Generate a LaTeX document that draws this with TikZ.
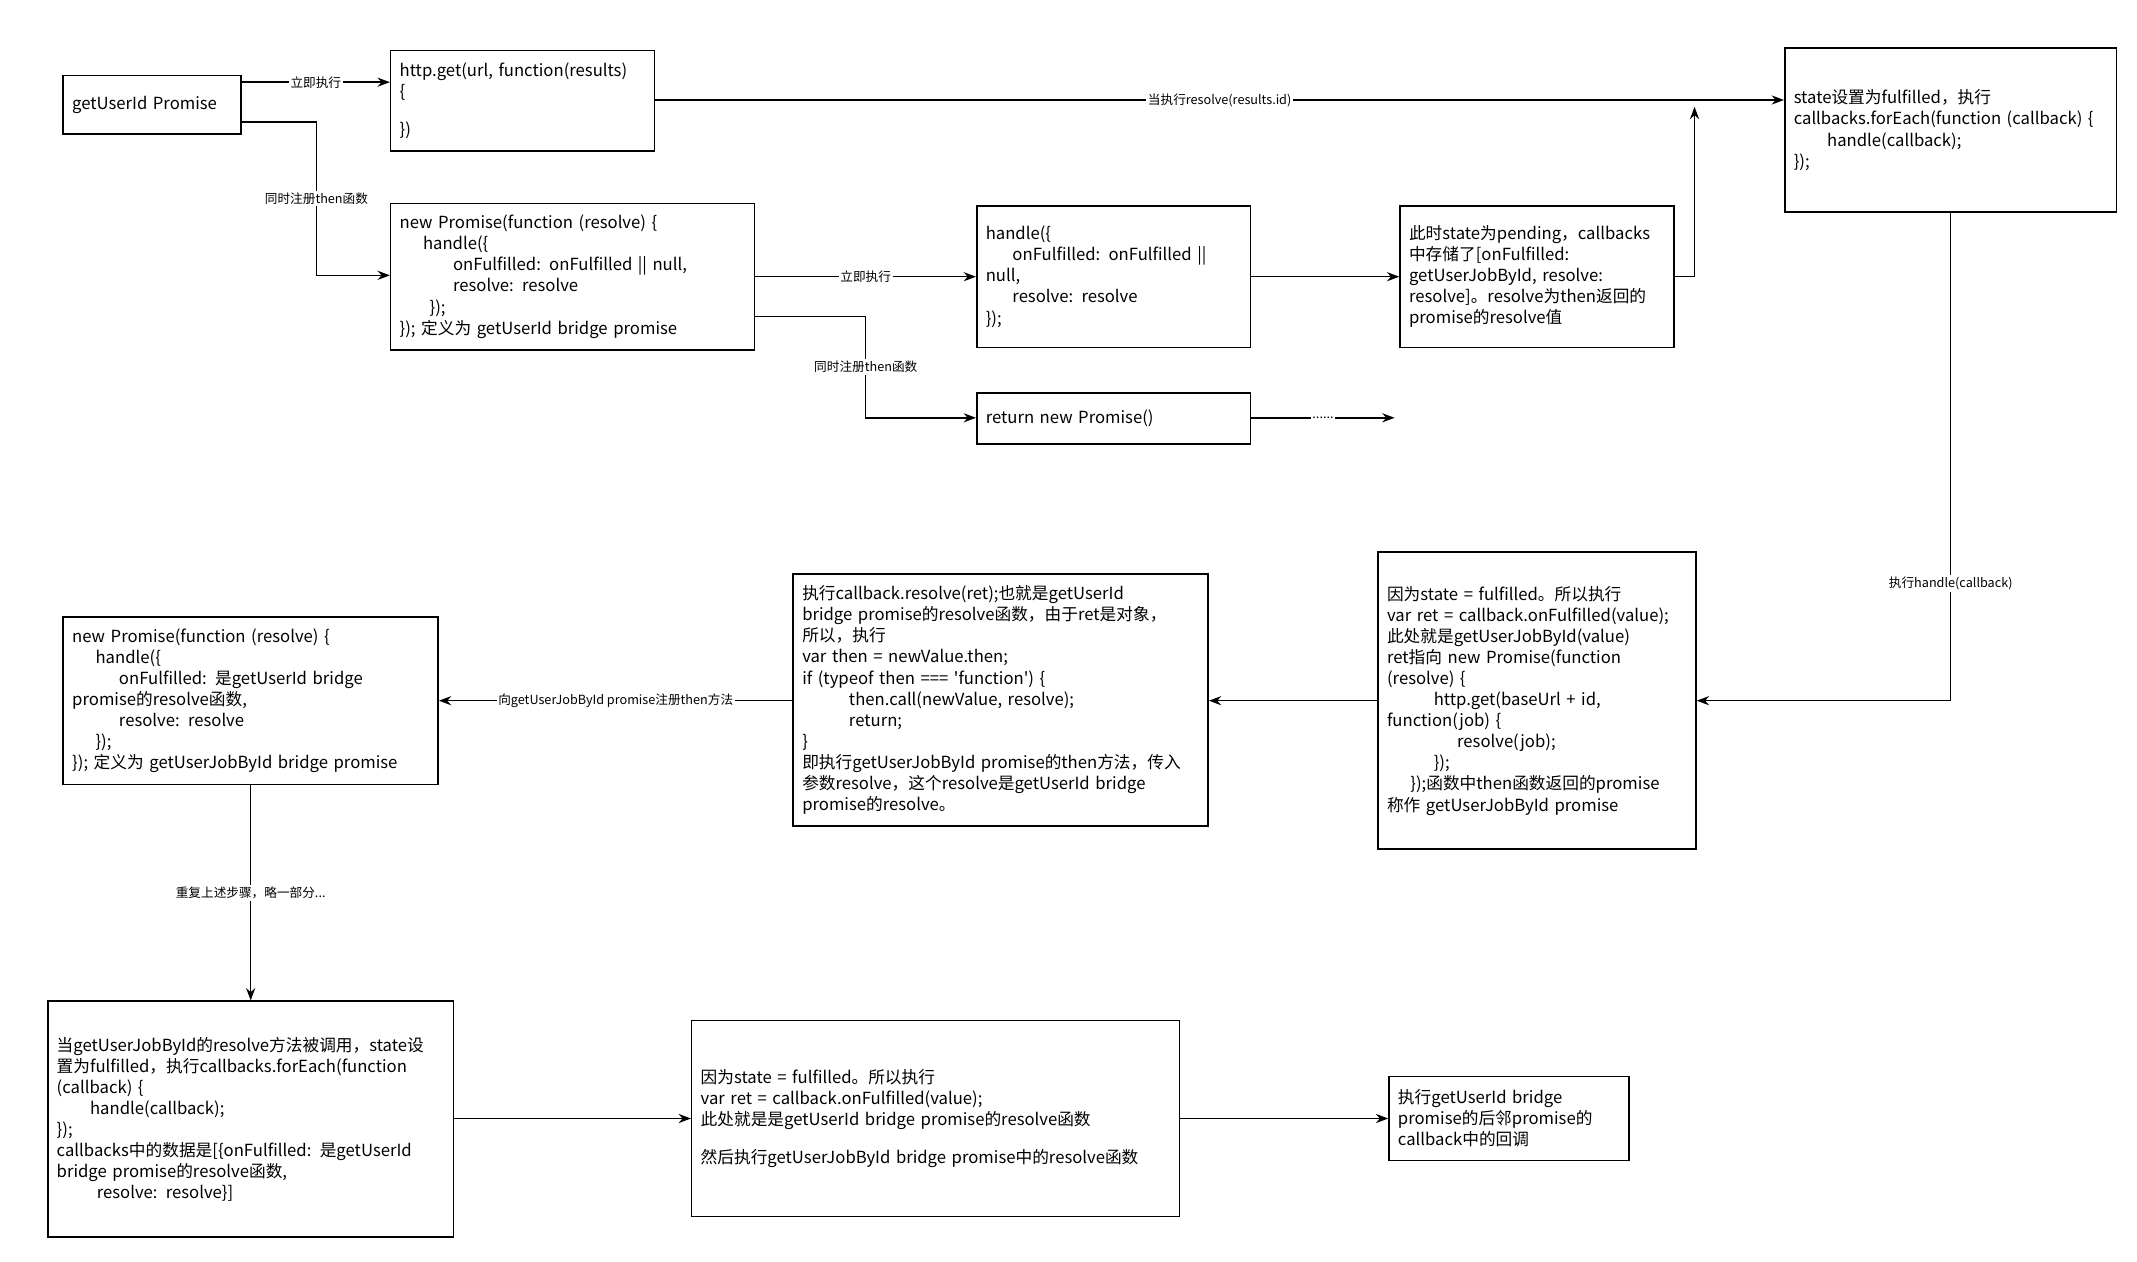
\documentclass[tikz,border=0pt]{standalone}
\usepackage{fontspec}
\setmainfont{Noto Sans CJK SC}[Ligatures=TeXOff]
\usetikzlibrary{arrows.meta, positioning, calc}

\begin{document}
\begin{tikzpicture}[
        x=0.0137cm, y=-0.0137cm,
        box/.style={rectangle, draw=black, line width=0.45pt, align=left, inner xsep=0.08cm, font=\fontsize{4.75}{6}\selectfont},
        lbl/.style={fill=white, inner sep=0.5pt, font=\fontsize{3.6}{4}\selectfont},
        arrow/.style={-{Stealth[length=3.5pt, width=2.6pt]}, line width=0.4pt}
    ]
        \useasboundingbox (0,0) rectangle (1560,921);

        % First row
        \node[box, minimum width=1.78cm, minimum height=0.59cm, text width=1.60cm] (getid) at (111,76.5) {getUserId Promise};
        \node[box, minimum width=2.64cm, minimum height=0.84cm, text width=2.46cm] (httpget) at (381.5,73.5) {http.get(url, function(results)\\ \{\\[5pt] \})};
        \node[box, minimum width=3.32cm, minimum height=1.64cm, text width=3.14cm] (fulfill) at (1424,95) {state设置为fulfilled，执行\\ callbacks.forEach(function (callback) \{\\ \hspace*{2em}handle(callback);\\ \});};

        % Second row
        \node[box, minimum width=3.64cm, minimum height=1.42cm, text width=3.46cm] (bridge) at (418,202) {new Promise(function (resolve) \{\\ \hspace*{1.4em}handle(\{\\ \hspace*{3.2em}onFulfilled: onFulfilled || null,\\ \hspace*{3.2em}resolve: resolve\\ \hspace*{1.8em}\});\\ \}); 定义为 getUserId bridge promise};
        \node[box, minimum width=2.74cm, minimum height=1.42cm, text width=2.56cm] (handle) at (813,202) {handle(\{\\ \hspace*{1.6em}onFulfilled: onFulfilled || null,\\ \hspace*{1.6em}resolve: resolve\\ \});};
        \node[box, minimum width=2.74cm, minimum height=1.42cm, text width=2.56cm] (pending) at (1122,202) {此时state为pending，callbacks\\ 中存储了[onFulfilled:\\ getUserJobById, resolve:\\ resolve]。resolve为then返回的\\ promise的resolve值};
        \node[box, minimum width=2.74cm, minimum height=0.51cm, text width=2.56cm] (retnew) at (813,305.5) {return new Promise()};
        \coordinate (more) at (1018,305);
        \coordinate (up) at (1237,78);

        % Third row
        \node[box, minimum width=3.18cm, minimum height=2.97cm, text width=3.00cm] (onfulf) at (1122,511.5) {因为state = fulfilled。所以执行\\ var ret = callback.onFulfilled(value);\\ 此处就是getUserJobById(value)\\ ret指向 new Promise(function\\ (resolve) \{\\ \hspace*{2.8em}http.get(baseUrl + id,\\ function(job) \{\\ \hspace*{4.2em}resolve(job);\\ \hspace*{2.8em}\});\\ \hspace*{1.4em}\});函数中then函数返回的promise\\ 称作 getUserJobById promise\\[12pt]};
        \node[box, minimum width=4.15cm, minimum height=2.41cm, text width=3.97cm] (cbres) at (730.5,511) {执行callback.resolve(ret);也就是getUserId\\ bridge promise的resolve函数，由于ret是对象，\\ 所以，执行\\ var then = newValue.then;\\ if (typeof then === 'function') \{\\ \hspace*{2.8em}then.call(newValue, resolve);\\ \hspace*{2.8em}return;\\ \}\\ 即执行getUserJobById promise的then方法，传入\\ 参数resolve，这个resolve是getUserId bridge\\ promise的resolve。};
        \node[box, minimum width=3.75cm, minimum height=1.52cm, text width=3.57cm] (jobbridge) at (183,511.5) {new Promise(function (resolve) \{\\ \hspace*{1.4em}handle(\{\\ \hspace*{2.8em}onFulfilled: 是getUserId bridge\\ promise的resolve函数,\\ \hspace*{2.8em}resolve: resolve\\ \hspace*{1.4em}\});\\ \}); 定义为 getUserJobById bridge promise};

        % Fourth row
        \node[box, minimum width=4.06cm, minimum height=2.36cm, text width=3.88cm] (jobres) at (183,817) {当getUserJobById的resolve方法被调用，state设\\ 置为fulfilled，执行callbacks.forEach(function\\ (callback) \{\\ \hspace*{2em}handle(callback);\\ \});\\ callbacks中的数据是[\{onFulfilled: 是getUserId\\ bridge promise的resolve函数,\\ \hspace*{2.4em}resolve: resolve\}]\\[10pt]};
        \node[box, minimum width=4.88cm, minimum height=1.96cm, text width=4.70cm] (again) at (683,816.5) {因为state = fulfilled。所以执行\\ var ret = callback.onFulfilled(value);\\ 此处就是是getUserId bridge promise的resolve函数\\[5pt] 然后执行getUserJobById bridge promise中的resolve函数\\[22pt]};
        \node[box, minimum width=2.40cm, minimum height=0.84cm, text width=2.22cm] (final) at (1101.5,816.5) {执行getUserId bridge\\ promise的后邻promise的\\ callback中的回调};

        \draw[arrow] (getid.east|-0,60) -- node[lbl]{立即执行} (httpget.west|-0,60);
        \draw[arrow] (getid.east|-0,89) -- (231,89) -- node[lbl]{同时注册then函数} (231,201) -- (bridge.west|-0,201);
        \draw[arrow] (httpget.east|-0,73) -- node[lbl]{当执行resolve(results.id)} (fulfill.west|-0,73);
        \draw[arrow] (bridge.east) -- node[lbl]{立即执行} (handle.west);
        \draw[arrow] (bridge.east|-0,231) -- (632,231) -- node[lbl]{同时注册then函数} (632,305) -- (retnew.west|-0,305);
        \draw[arrow] (handle.east) -- (pending.west);
        \draw[arrow] (pending.east) -- (up|-pending.east) -- (up);
        \draw[arrow] (retnew.east|-more) -- node[lbl]{......} (more);
        \draw[arrow] (fulfill.south) -- node[lbl, pos=0.76]{执行handle(callback)} (fulfill.south|-onfulf.east) -- (onfulf.east);
        \draw[arrow] (onfulf.west) -- (cbres.east|-onfulf.west);
        \draw[arrow] (cbres.west|-0,511.5) -- node[lbl]{向getUserJobById promise注册then方法} (jobbridge.east);
        \draw[arrow] (jobbridge.south) -- node[lbl]{重复上述步骤，略一部分...} (jobres.north);
        \draw[arrow] (jobres.east|-again.west) -- (again.west);
        \draw[arrow] (again.east) -- (final.west);
    \end{tikzpicture}
\end{document}
